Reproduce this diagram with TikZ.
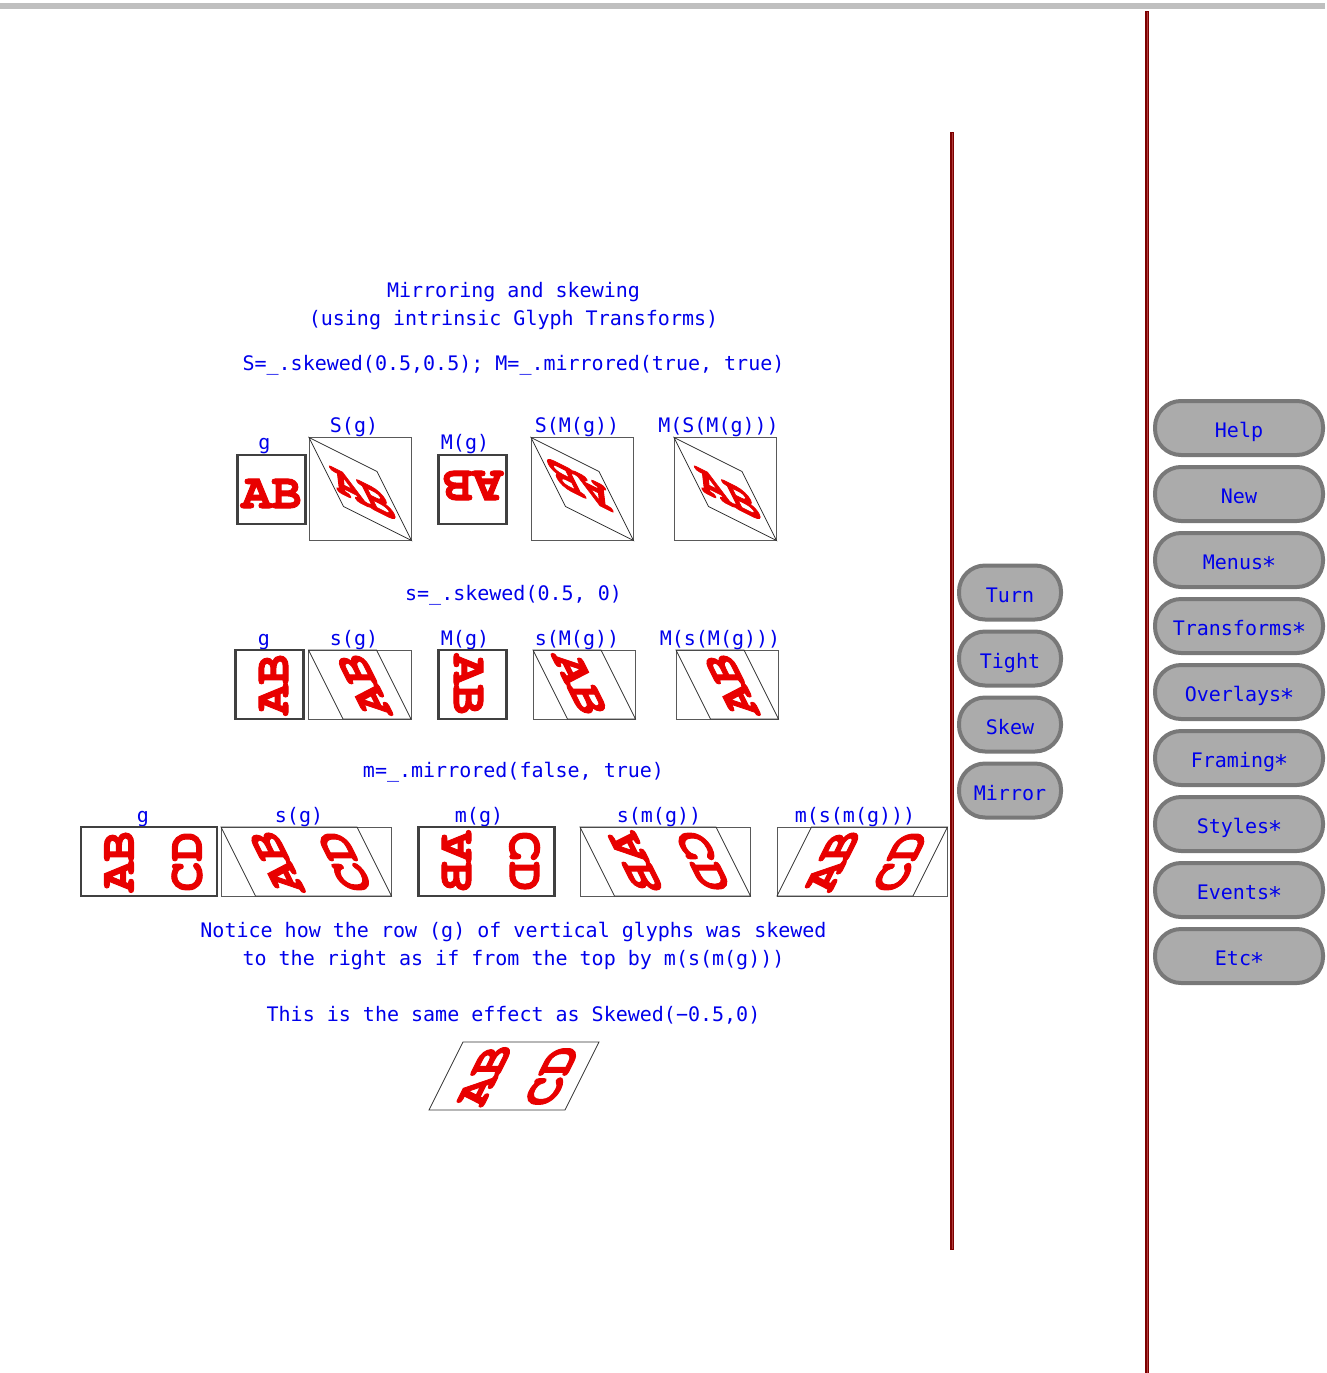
\documentclass[tikz,border=0pt]{standalone}
\usepackage{fontspec}
\newfontfamily\uifont{DejaVu Sans Mono}
\newfontfamily\glyphfont{TeX Gyre Cursor}[BoldFeatures={FakeBold=2}]
\newcommand\astx{\makebox[12.04pt][c]{\fontsize{24}{20}\selectfont ∗}}
\definecolor{uiblue}{RGB}{0,0,235}
\definecolor{glyphred}{RGB}{232,0,0}
\definecolor{barred}{RGB}{125,0,0}
\definecolor{stripe}{RGB}{175,60,60}
\begin{document}
\begin{tikzpicture}[x=1pt,y=-1pt,
  lbl/.style={font=\uifont\fontsize{20}{24}\selectfont, text=uiblue, anchor=base, inner sep=0pt},
  gl/.style={font=\glyphfont\bfseries\fontsize{50}{50}\selectfont, text=glyphred, inner sep=0pt, transform shape},
  heavybox/.style={draw=black!75, line width=2.5pt},
  lightbox/.style={draw=black!65, line width=1pt},
  para/.style={draw=black!80, line width=0.8pt},
  btn/.style={rectangle, rounded corners=26pt, fill=black!33, draw=black!53, line width=4pt,
    font=\uifont\fontsize{20}{24}\selectfont, text=uiblue, text height=19.6pt, text depth=0pt,
    inner sep=0pt, minimum height=54pt},
  widebtn/.style={btn, minimum width=168pt},
  narrowbtn/.style={btn, minimum width=102pt},
  divider/.style={line width=4pt, draw=barred},
  dividerstripe/.style={line width=1pt, draw=stripe},
  vertflip/.style={cm={0,-1,-1,0,(0,0)}}]
\useasboundingbox (0,0) rectangle (1327,1373);

% top bar and dividers
\fill[black!25] (0,3) rectangle (1325,8.5);
\draw[divider] (952,132) -- (952,1250);
\draw[dividerstripe] (952,133) -- (952,1249);
\draw[divider] (1147,11) -- (1147,1373);
\draw[dividerstripe] (1147,12) -- (1147,1373);

% titles
\node[lbl] (t1) at (513.5,297) {Mirroring and skewing};
\node[lbl] (t2) at (513.5,325) {(using intrinsic Glyph Transforms)};
\node[lbl] (t3) at (513.5,370) {S=\_.skewed(0.5,0.5); M=\_.mirrored(true, true)};

% ---------- row 1 ----------
\node[lbl] (l1a) at (264.5,449) {g};
\node[lbl] (l1b) at (354,432) {S(g)};
\node[lbl] (l1c) at (465,449) {M(g)};
\node[lbl] (l1d) at (577,432) {S(M(g))};
\node[lbl] (l1e) at (718.5,432) {M(S(M(g)))};

\draw[heavybox] (237.5,455) rectangle ++(68,69);
\node[gl] (r1g) at (271.5,493.5) {AB};

\draw[lightbox] (309,437.5) rectangle ++(102.5,103);
\begin{scope}[shift={(309,437.5)}, cm={1,-0.5,-0.5,1,(0,0)}]
  \draw[para] (0,0) -- (68,0) -- (68,69) -- (0,69) -- cycle;
  \node[gl] (r1s) at (34,38.5) {AB};
\end{scope}

\draw[heavybox] (438.5,455) rectangle ++(68,69);
\node[gl, rotate=180] (r1m) at (472.5,485.5) {AB};

\draw[lightbox] (531,437.5) rectangle ++(102.5,103);
\begin{scope}[shift={(531,437.5)}, cm={1,-0.5,-0.5,1,(0,0)}]
  \draw[para] (0,0) -- (68,0) -- (68,69) -- (0,69) -- cycle;
  \node[gl, rotate=180] (r1sm) at (34,30.5) {AB};
\end{scope}

\draw[lightbox] (674,437.5) rectangle ++(102.5,103);
\begin{scope}[shift={(674,437.5)}, cm={1,-0.5,-0.5,1,(0,0)}]
  \draw[para] (0,0) -- (68,0) -- (68,69) -- (0,69) -- cycle;
  \node[gl] (r1msm) at (34,38.5) {AB};
\end{scope}

% ---------- row 2 ----------
\node[lbl] (t4) at (513.5,600) {s=\_.skewed(0.5, 0)};
\node[lbl] (l2a) at (264,645) {g};
\node[lbl] (l2b) at (354,645) {s(g)};
\node[lbl] (l2c) at (465,645) {M(g)};
\node[lbl] (l2d) at (577,645) {s(M(g))};
\node[lbl] (l2e) at (720,645) {M(s(M(g)))};

\draw[heavybox] (235.5,650) rectangle ++(68,69);
\node[gl, rotate=90] (r2g) at (273.5,684.5) {AB};

\draw[lightbox] (308.5,650) rectangle ++(102.5,69);
\begin{scope}[shift={(308.5,650)}, cm={1,0,-0.5,1,(0,0)}]
  \draw[para] (0,0) -- (68,0) -- (68,69) -- (0,69) -- cycle;
  \node[gl, rotate=90] (r2s) at (38,34.5) {AB};
\end{scope}

\draw[heavybox] (438.5,650) rectangle ++(68,69);
\node[gl, rotate=270] (r2m) at (468.5,684.5) {AB};

\draw[lightbox] (533,650) rectangle ++(102.5,69);
\begin{scope}[shift={(533,650)}, cm={1,0,-0.5,1,(0,0)}]
  \draw[para] (0,0) -- (68,0) -- (68,69) -- (0,69) -- cycle;
  \node[gl, rotate=270] (r2sm) at (30,34.5) {AB};
\end{scope}

\draw[lightbox] (676,650) rectangle ++(102.5,69);
\begin{scope}[shift={(676,650)}, cm={1,0,-0.5,1,(0,0)}]
  \draw[para] (0,0) -- (68,0) -- (68,69) -- (0,69) -- cycle;
  \node[gl, rotate=90] (r2msm) at (38,34.5) {AB};
\end{scope}

% ---------- row 3 ----------
\node[lbl] (t5) at (513.5,777) {m=\_.mirrored(false, true)};
\node[lbl] (l3a) at (143,822) {g};
\node[lbl] (l3b) at (299,822) {s(g)};
\node[lbl] (l3c) at (479,822) {m(g)};
\node[lbl] (l3d) at (659,822) {s(m(g))};
\node[lbl] (l3e) at (855,822) {m(s(m(g)))};

\draw[heavybox] (81,827) rectangle ++(136,69);
\node[gl, rotate=90] (r3ga) at (119,861.5) {AB};
\node[gl, rotate=90] (r3gb) at (187,861.5) {CD};

\draw[lightbox] (221,827) rectangle ++(170.5,69);
\begin{scope}[shift={(221,827)}, cm={1,0,-0.5,1,(0,0)}]
  \draw[para] (0,0) -- (136,0) -- (136,69) -- (0,69) -- cycle;
  \node[gl, rotate=90] (r3sa) at (38,34.5) {AB};
  \node[gl, rotate=90] (r3sb) at (106,34.5) {CD};
\end{scope}

\draw[heavybox] (418.5,827) rectangle ++(136,69);
\node[gl, vertflip] (r3ma) at (456.5,861.5) {AB};
\node[gl, vertflip] (r3mb) at (524.5,861.5) {CD};

\draw[lightbox] (580,827) rectangle ++(170.5,69);
\begin{scope}[shift={(580,827)}, cm={1,0,-0.5,1,(0,0)}]
  \draw[para] (0,0) -- (136,0) -- (136,69) -- (0,69) -- cycle;
  \node[gl, vertflip] (r3sma) at (38,34.5) {AB};
  \node[gl, vertflip] (r3smb) at (106,34.5) {CD};
\end{scope}

\draw[lightbox] (777,827) rectangle ++(170.5,69);
\begin{scope}[shift={(811.5,827)}, cm={1,0,0.5,1,(0,0)}]
  \draw[para] (0,0) -- (136,0) -- (136,69) -- (0,69) -- cycle;
  \node[gl, rotate=90] (r3msma) at (38,34.5) {AB};
  \node[gl, rotate=90] (r3msmb) at (106,34.5) {CD};
\end{scope}

% ---------- notes ----------
\node[lbl] (t6) at (513.5,937) {Notice how the row (g) of vertical glyphs was skewed};
\node[lbl] (t7) at (513.5,965) {to the right as if from the top by m(s(m(g)))};
\node[lbl] (t8) at (513.5,1021) {This is the same effect as Skewed(−0.5,0)};

\begin{scope}[shift={(463,1042)}, cm={1,0,0.5,1,(0,0)}]
  \draw[para] (0,0) -- (136,0) -- (136,68) -- (0,68) -- cycle;
  \node[gl, rotate=90] (bka) at (38,34) {AB};
  \node[gl, rotate=90] (bkb) at (106,34) {CD};
\end{scope}

% ---------- buttons ----------
\node[narrowbtn] (turn) at (1010,592.5) {Turn};
\node[narrowbtn] (tight) at (1010,658.5) {Tight};
\node[narrowbtn] (skew) at (1010,724.5) {Skew};
\node[narrowbtn] (mirror) at (1010,790.5) {Mirror};

\node[widebtn] (help) at (1239,428) {Help};
\node[widebtn] (new) at (1239,494) {New};
\node[widebtn] (menus) at (1239,560) {Menus\astx};
\node[widebtn] (transforms) at (1239,626) {Transforms\astx};
\node[widebtn] (overlays) at (1239,692) {Overlays\astx};
\node[widebtn] (framing) at (1239,758) {Framing\astx};
\node[widebtn] (styles) at (1239,824) {Styles\astx};
\node[widebtn] (events) at (1239,890) {Events\astx};
\node[widebtn] (etc) at (1239,956) {Etc\astx};
\end{tikzpicture}
\end{document}
